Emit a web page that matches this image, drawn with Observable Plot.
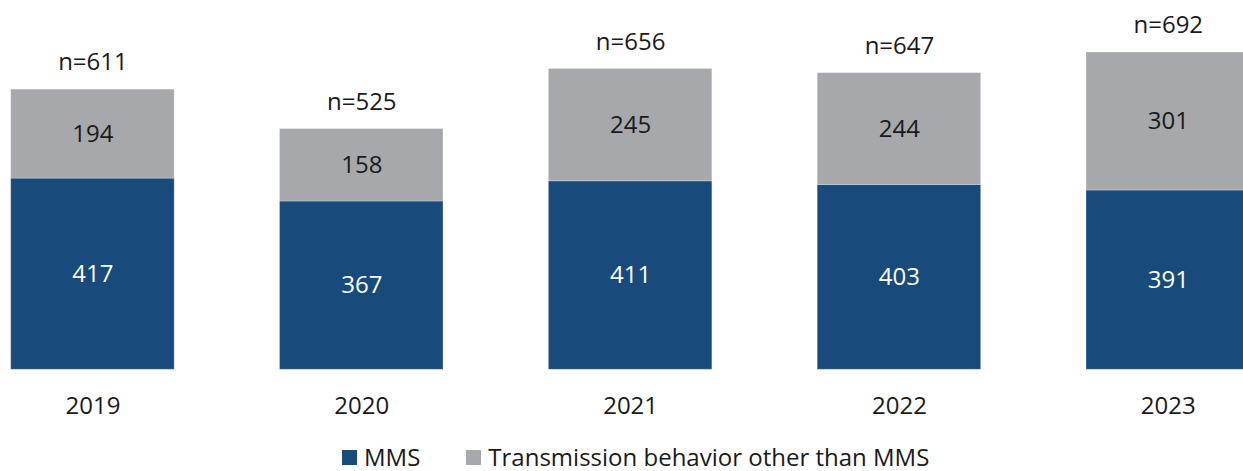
<!DOCTYPE html>
<html>
<head>
<meta charset="utf-8">
<script src="https://cdn.jsdelivr.net/npm/d3@7"></script>
<script src="https://cdn.jsdelivr.net/npm/@observablehq/plot@0.6"></script>
<style>
  html, body { margin: 0; padding: 0; background: #fff; overflow: hidden; width: 1243px; height: 471px; }
  #chart { position: relative; width: 1243px; height: 471px; }
  .legend { position: absolute; left: 342px; top: 445px; display: flex; align-items: center;
    font-family: "Open Sans", sans-serif; font-size: 24px; color: #1a1a1a; white-space: nowrap; line-height: 1; }
  .legend .item { display: flex; align-items: center; margin-right: 46px; }
  .legend .sw { width: 15px; height: 15px; margin-right: 7px; display: inline-block; }
</style>
</head>
<body>
<div id="chart"></div>
<script>
const years = ["2019", "2020", "2021", "2022", "2023"];
const seriesNames = ["MMS", "Transmission behavior other than MMS"];
const mms = [417, 367, 411, 403, 391];
const other = [194, 158, 245, 244, 301];
const totals = [611, 525, 656, 647, 692];
const colors = ["#184A7B", "#A7A8AB"];

const rows = [];
years.forEach((y, i) => {
  rows.push({year: y, series: seriesNames[0], value: mms[i]});
  rows.push({year: y, series: seriesNames[1], value: other[i]});
});
const totalRows = years.map((y, i) => ({year: y, total: totals[i]}));

const plot = Plot.plot({
  width: 1243,
  height: 430,
  marginTop: 52,
  marginBottom: 60.7,
  marginLeft: 0,
  marginRight: 0,
  style: {fontFamily: "'Open Sans', sans-serif", fontSize: "24px", color: "#1a1a1a", background: "#fff"},
  x: {domain: years, range: [10.7, 1249.5], paddingInner: 0.392, paddingOuter: 0, round: false, label: null},
  y: {domain: [0, 692], axis: null},
  color: {domain: seriesNames, range: colors},
  marks: [
    Plot.barY(rows, {x: "year", y: "value", fill: "series", stroke: "#ffffff", strokeOpacity: 0.25, strokeWidth: 1}),
    Plot.text(rows, Plot.stackY({x: "year", y: "value", z: "series", text: d => d.series === seriesNames[0] ? String(d.value) : null, fill: "#ffffff", fontSize: 24})),
    Plot.text(rows, Plot.stackY({x: "year", y: "value", z: "series", text: d => d.series === seriesNames[1] ? String(d.value) : null, fill: "#1a1a1a", fontSize: 24})),
    Plot.text(totalRows, {x: "year", y: "total", text: d => "n=" + d.total, dy: -27, fill: "#1a1a1a", fontSize: 24}),
    Plot.axisX({tickSize: 0, tickPadding: 27, fontSize: 24, label: null, fill: "#1a1a1a"})
  ]
});
plot.style.overflow = "hidden";
document.getElementById("chart").appendChild(plot);

const legend = document.createElement("div");
legend.className = "legend";
seriesNames.forEach((s, i) => {
  const item = document.createElement("span");
  item.className = "item";
  const sw = document.createElement("span");
  sw.className = "sw";
  sw.style.background = colors[i];
  item.appendChild(sw);
  item.appendChild(document.createTextNode(s));
  legend.appendChild(item);
});
document.getElementById("chart").appendChild(legend);
</script>
</body>
</html>
